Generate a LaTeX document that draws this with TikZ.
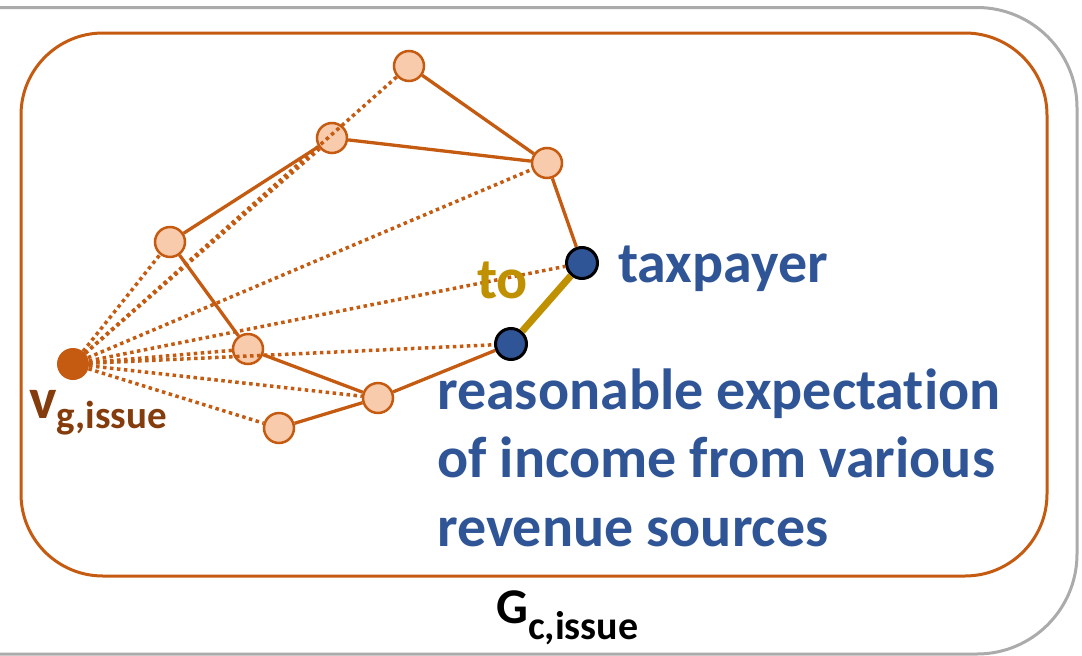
\documentclass[tikz,border=0pt]{standalone}
\usepackage{fontspec}
\setmainfont{Carlito}[Ligatures={NoCommon}]
\definecolor{orng}{HTML}{C55A11}
\definecolor{peach}{HTML}{F8CBAD}
\definecolor{navy}{HTML}{2F5597}
\definecolor{gold}{HTML}{BF9000}
\definecolor{brown}{HTML}{843C0C}
\definecolor{graybox}{HTML}{ABABAB}
\tikzset{
  vnode/.style={circle, minimum size=30pt, inner sep=0pt, draw=orng, line width=2.5pt, fill=peach},
  bnode/.style={circle, minimum size=31pt, inner sep=0pt, draw=black, line width=3pt, fill=navy},
  gnode/.style={circle, minimum size=32pt, inner sep=0pt, fill=orng},
  solidedge/.style={draw=orng, line width=3.3pt},
  dotedge/.style={draw=orng, line width=3.5pt, dash pattern=on 3.5pt off 3.5pt},
  goldedge/.style={draw=gold, line width=7pt},
  bluetext/.style={text=navy, font=\bfseries\fontsize{58}{60}\selectfont, inner sep=0pt, anchor=base west},
}
\begin{document}
\begin{tikzpicture}[x=1pt, y=-1pt]
\useasboundingbox (0,0) rectangle (1082,656);
\draw[graybox, line width=3pt, rounded corners=100pt] (-150,7.5) rectangle (1077,654);
\draw[orng, line width=3pt, rounded corners=82pt] (21,33) rectangle (1047,576);

\node[gnode] (v) at (73,364) {};
\node[vnode] (n1) at (409,66) {};
\node[vnode] (n2) at (332,138) {};
\node[vnode] (n3) at (547,163) {};
\node[vnode] (n4) at (170,242) {};
\node[vnode] (n5) at (248,349) {};
\node[vnode] (n6) at (378,398) {};
\node[vnode] (n7) at (279,428) {};
\node[bnode] (a) at (582,263) {};
\node[bnode] (b) at (511,344) {};

\draw[solidedge] (n1) -- (n3);
\draw[solidedge] (n2) -- (n3);
\draw[solidedge] (n2) -- (n4);
\draw[solidedge] (n4) -- (n5);
\draw[solidedge] (n5) -- (n6);
\draw[solidedge] (n6) -- (n7);
\draw[solidedge] (n6) -- (b);
\draw[solidedge] (n3) -- (a);
\draw[goldedge] (a) -- (b);

\foreach \t in {n1,n2,n3,n4,n5,n6,n7,a,b}{
  \draw[dotedge] (v) -- (\t);
}

\node[text=gold, font=\bfseries\fontsize{58}{58}\selectfont, inner sep=0pt, anchor=base west] (to) at (477,298) {to};
\node[bluetext] (tax) at (618,282) {taxpayer};
\node[bluetext] (r1) at (437,409) {reasonable expectation};
\node[bluetext] (r2) at (437,477) {of income from various};
\node[bluetext] (r3) at (437,546) {revenue sources};

\node[text=brown, font=\bfseries, inner sep=0pt, anchor=base west] (vlab) at (29,418)
  {{\fontsize{58}{58}\selectfont v}\raisebox{-10pt}{\fontsize{39}{39}\selectfont g,issue}};
\node[text=black, font=\bfseries, inner sep=0pt, anchor=base west] (glab) at (496,623)
  {{\fontsize{50}{50}\selectfont G}\raisebox{-16pt}{\fontsize{40}{40}\selectfont c,issue}};
\end{tikzpicture}
\end{document}
